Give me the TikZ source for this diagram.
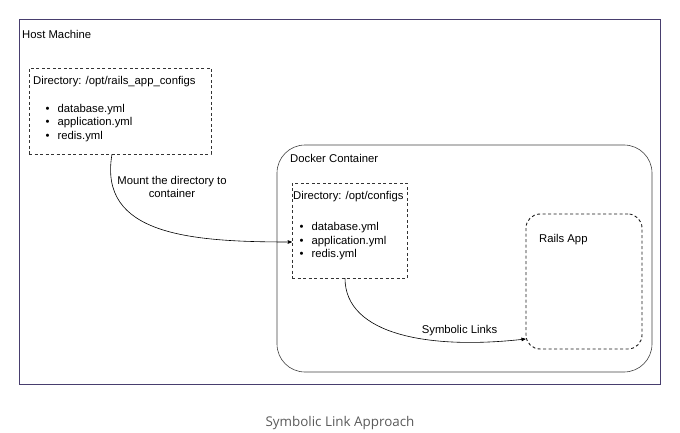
\documentclass[tikz,border=0pt]{standalone}
\usepackage{fontspec}
\setmainfont{Liberation Sans}
\newfontfamily\capfont{Open Sans}
\usetikzlibrary{arrows}
\definecolor{hostline}{RGB}{72,62,110}
\definecolor{capgray}{RGB}{90,90,90}

\begin{document}
\begin{tikzpicture}[x=1pt,y=-1pt,
  every node/.style={font=\fontsize{11.3}{13.5}\selectfont,inner sep=0pt},
  host/.style={draw=hostline,thick},
  container/.style={draw=black!75,semithick,rounded corners=28pt},
  dirbox/.style={draw=black!80,dash pattern=on 3pt off 2.5pt},
  appbox/.style={draw=black!90,line width=0.9pt,dash pattern=on 3pt off 2.5pt,rounded corners=14pt},
  title/.style={anchor=west},
  files/.style={anchor=north west,align=left},
  to/.style={->,>=stealth',semithick}]

  \useasboundingbox (0,0) rectangle (680,433);

  % Boxes
  \node[host,minimum width=641,minimum height=365] (host) at (339.5,201.5) {};
  \node[container,minimum width=375,minimum height=227] (docker) at (464.5,258.5) {};
  \node[dirbox,minimum width=182,minimum height=86] (hostdir) at (120,111) {};
  \node[dirbox,minimum width=115,minimum height=95] (containerdir) at (349.5,230.5) {};
  \node[appbox,minimum width=116,minimum height=135] (rails) at (584,281.5) {};

  % Texts
  \node[title] (hostlabel) at (22,34) {Host Machine};
  \node[title] (dockerlabel) at (290,158) {Docker Container};
  \node[title] (hostdirtitle) at (33,82) {Directory: /opt/rails\string_app\string_configs};
  \node[files] (hostfiles) at (45.5,104) {\textbullet\hspace{8pt}database.yml\\
    \textbullet\hspace{8pt}application.yml\\ \textbullet\hspace{8pt}redis.yml};
  \node[title] (containerdirtitle) at (293,197) {Directory: /opt/configs};
  \node[files] (containerfiles) at (299.5,222.5) {\textbullet\hspace{8pt}database.yml\\
    \textbullet\hspace{8pt}application.yml\\ \textbullet\hspace{8pt}redis.yml};
  \node[title] (railslabel) at (539,240) {Rails App};

  % Links
  \draw[to] ([xshift=-8pt]hostdir.south) .. controls (98,235) and (190,242) .. ([yshift=-11.5pt]containerdir.west);
  \draw[to] ([xshift=-4.5pt]containerdir.south) .. controls (345,335) and (430,350) .. ([yshift=-57.5pt]rails.west);
  \node[align=center] (mountlabel) at (172,187) {Mount the directory to\\container};
  \node (symlabel) at (459.5,331) {Symbolic Links};

  % Caption
  \node[font=\capfont\fontsize{13.4}{16}\selectfont,text=capgray] (caption) at (340,423) {Symbolic Link Approach};
\end{tikzpicture}
\end{document}
